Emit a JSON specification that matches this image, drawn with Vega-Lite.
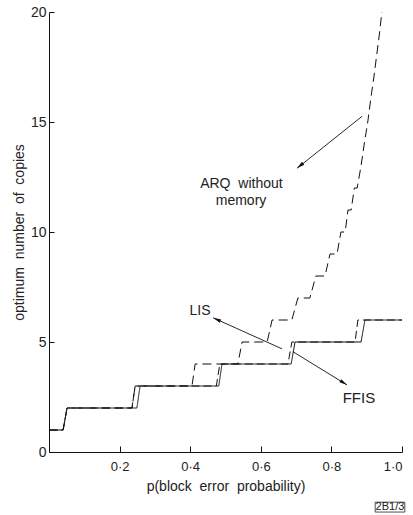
{
  "$schema": "https://vega.github.io/schema/vega-lite/v6.json",
  "width": 353,
  "height": 440,
  "autosize": {"type": "none"},
  "padding": {"left": 49, "top": 12, "right": 11, "bottom": 63},
  "background": "white",
  "config": {
    "view": {"stroke": null},
    "font": "Liberation Sans",
    "axis": {
      "domainColor": "#111",
      "tickColor": "#111",
      "labelColor": "#222",
      "titleColor": "#222",
      "labelFont": "Liberation Sans",
      "titleFont": "Liberation Sans",
      "labelFontSize": 13,
      "titleFontSize": 13,
      "titleFontWeight": "normal",
      "grid": false
    }
  },
  "datasets": {
    "curves": [
      {"series": "FFIS", "i": 1, "p": 0.0, "n": 1},
      {"series": "FFIS", "i": 2, "p": 0.040, "n": 1},
      {"series": "FFIS", "i": 3, "p": 0.051, "n": 2},
      {"series": "FFIS", "i": 4, "p": 0.249, "n": 2},
      {"series": "FFIS", "i": 5, "p": 0.258, "n": 3},
      {"series": "FFIS", "i": 6, "p": 0.481, "n": 3},
      {"series": "FFIS", "i": 7, "p": 0.490, "n": 4},
      {"series": "FFIS", "i": 8, "p": 0.686, "n": 4},
      {"series": "FFIS", "i": 9, "p": 0.697, "n": 5},
      {"series": "FFIS", "i": 10, "p": 0.884, "n": 5},
      {"series": "FFIS", "i": 11, "p": 0.895, "n": 6},
      {"series": "FFIS", "i": 12, "p": 1.0, "n": 6},
      {"series": "LIS", "i": 1, "p": 0.0, "n": 1},
      {"series": "LIS", "i": 2, "p": 0.040, "n": 1},
      {"series": "LIS", "i": 3, "p": 0.051, "n": 2},
      {"series": "LIS", "i": 4, "p": 0.235, "n": 2},
      {"series": "LIS", "i": 5, "p": 0.244, "n": 3},
      {"series": "LIS", "i": 6, "p": 0.474, "n": 3},
      {"series": "LIS", "i": 7, "p": 0.484, "n": 4},
      {"series": "LIS", "i": 8, "p": 0.677, "n": 4},
      {"series": "LIS", "i": 9, "p": 0.688, "n": 5},
      {"series": "LIS", "i": 10, "p": 0.867, "n": 5},
      {"series": "LIS", "i": 11, "p": 0.875, "n": 6},
      {"series": "LIS", "i": 12, "p": 1.0, "n": 6},
      {"series": "ARQ", "i": 1, "p": 0.0, "n": 1},
      {"series": "ARQ", "i": 2, "p": 0.040, "n": 1},
      {"series": "ARQ", "i": 3, "p": 0.051, "n": 2},
      {"series": "ARQ", "i": 4, "p": 0.235, "n": 2},
      {"series": "ARQ", "i": 5, "p": 0.244, "n": 3},
      {"series": "ARQ", "i": 6, "p": 0.405, "n": 3},
      {"series": "ARQ", "i": 7, "p": 0.414, "n": 4},
      {"series": "ARQ", "i": 8, "p": 0.535, "n": 4},
      {"series": "ARQ", "i": 9, "p": 0.547, "n": 5},
      {"series": "ARQ", "i": 10, "p": 0.618, "n": 5},
      {"series": "ARQ", "i": 11, "p": 0.632, "n": 6},
      {"series": "ARQ", "i": 12, "p": 0.688, "n": 6},
      {"series": "ARQ", "i": 13, "p": 0.705, "n": 7},
      {"series": "ARQ", "i": 14, "p": 0.739, "n": 7},
      {"series": "ARQ", "i": 15, "p": 0.756, "n": 8},
      {"series": "ARQ", "i": 16, "p": 0.782, "n": 8},
      {"series": "ARQ", "i": 17, "p": 0.796, "n": 9},
      {"series": "ARQ", "i": 18, "p": 0.816, "n": 9},
      {"series": "ARQ", "i": 19, "p": 0.827, "n": 10},
      {"series": "ARQ", "i": 20, "p": 0.839, "n": 10},
      {"series": "ARQ", "i": 21, "p": 0.847, "n": 11},
      {"series": "ARQ", "i": 22, "p": 0.856, "n": 11},
      {"series": "ARQ", "i": 23, "p": 0.865, "n": 12},
      {"series": "ARQ", "i": 24, "p": 0.873, "n": 12},
      {"series": "ARQ", "i": 25, "p": 0.884, "n": 13},
      {"series": "ARQ", "i": 26, "p": 0.893, "n": 14},
      {"series": "ARQ", "i": 27, "p": 0.903, "n": 15},
      {"series": "ARQ", "i": 28, "p": 0.911, "n": 16},
      {"series": "ARQ", "i": 29, "p": 0.920, "n": 17},
      {"series": "ARQ", "i": 30, "p": 0.928, "n": 18},
      {"series": "ARQ", "i": 31, "p": 0.936, "n": 19},
      {"series": "ARQ", "i": 32, "p": 0.943, "n": 20}
    ],
    "arrows": [
      {"name": "ARQ", "p": 0.887, "n": 15.26, "p2": 0.703, "n2": 12.9, "hp": 0.7127, "hn": 13.03, "angle": 231},
      {"name": "LIS", "p": 0.660, "n": 4.69, "p2": 0.465, "n2": 6.1, "hp": 0.477, "hn": 6.01, "angle": 294},
      {"name": "FFIS", "p": 0.691, "n": 4.56, "p2": 0.844, "n2": 3.05, "hp": 0.8335, "hn": 3.16, "angle": 121}
    ],
    "labels": [
      {"p": 0.545, "n": 12.2, "text": "ARQ\u00a0 without", "size": 14},
      {"p": 0.544, "n": 11.4, "text": "memory", "size": 14},
      {"p": 0.428, "n": 6.42, "text": "LIS", "size": 14},
      {"p": 0.878, "n": 2.46, "text": "FFIS", "size": 15}
    ],
    "box": [
      {"p": 0.924, "p2": 1.008, "n": -2.28, "n2": -2.73, "pc": 0.966, "nc": -2.51, "text": "2B1/3"}
    ]
  },
  "layer": [
    {
      "data": {"name": "curves"},
      "mark": {"type": "line", "color": "#111", "strokeWidth": 1},
      "encoding": {
        "x": {
          "field": "p", "type": "quantitative",
          "scale": {"domain": [0, 1], "nice": false},
          "axis": {
            "values": [0.2, 0.4, 0.6, 0.8, 1.0],
            "labelExpr": "replace(format(datum.value, '.1f'), '.', '·')",
            "tickSize": -6,
            "labelPadding": 14,
            "title": "p(block\u00a0 error\u00a0 probability)",
            "titlePadding": 6,
            "titleFontSize": 14
          }
        },
        "y": {
          "field": "n", "type": "quantitative",
          "scale": {"domain": [0, 20], "nice": false},
          "axis": {
            "values": [0, 5, 10, 15, 20],
            "tickSize": -5,
            "labelPadding": 8,
            "labelFontSize": 14,
            "title": "optimum\u00a0 number\u00a0 of\u00a0 copies",
            "titleFontSize": 14,
            "titlePadding": 4
          }
        },
        "detail": {"field": "series"},
        "order": {"field": "i", "type": "quantitative"},
        "strokeDash": {
          "field": "series", "type": "nominal",
          "scale": {"domain": ["FFIS", "LIS", "ARQ"], "range": [[1, 0], [8, 4], [9, 5]]},
          "legend": null
        }
      }
    },
    {
      "data": {"name": "arrows"},
      "mark": {"type": "rule", "color": "#111", "strokeWidth": 0.9},
      "encoding": {
        "x": {"field": "p", "type": "quantitative"},
        "y": {"field": "n", "type": "quantitative"},
        "x2": {"field": "p2"},
        "y2": {"field": "n2"}
      }
    },
    {
      "data": {"name": "arrows"},
      "mark": {"type": "point", "shape": "M0,-1.4 L-0.55,1 L0.55,1 Z", "filled": true, "color": "#111", "size": 45, "opacity": 1},
      "encoding": {
        "x": {"field": "hp", "type": "quantitative"},
        "y": {"field": "hn", "type": "quantitative"},
        "angle": {"field": "angle", "type": "quantitative", "scale": null}
      }
    },
    {
      "data": {"name": "labels"},
      "mark": {"type": "text", "color": "#222", "font": "Liberation Sans", "align": "center", "baseline": "middle"},
      "encoding": {
        "x": {"field": "p", "type": "quantitative"},
        "y": {"field": "n", "type": "quantitative"},
        "text": {"field": "text"},
        "size": {"field": "size", "type": "quantitative", "scale": null}
      }
    },
    {
      "data": {"name": "box"},
      "mark": {"type": "rect", "fill": null, "stroke": "#222", "strokeWidth": 0.8},
      "encoding": {
        "x": {"field": "p", "type": "quantitative"},
        "x2": {"field": "p2"},
        "y": {"field": "n", "type": "quantitative"},
        "y2": {"field": "n2"}
      }
    },
    {
      "data": {"name": "box"},
      "mark": {"type": "text", "color": "#222", "fontSize": 11, "align": "center", "baseline": "middle"},
      "encoding": {
        "x": {"field": "pc", "type": "quantitative"},
        "y": {"field": "nc", "type": "quantitative"},
        "text": {"field": "text"}
      }
    }
  ]
}
